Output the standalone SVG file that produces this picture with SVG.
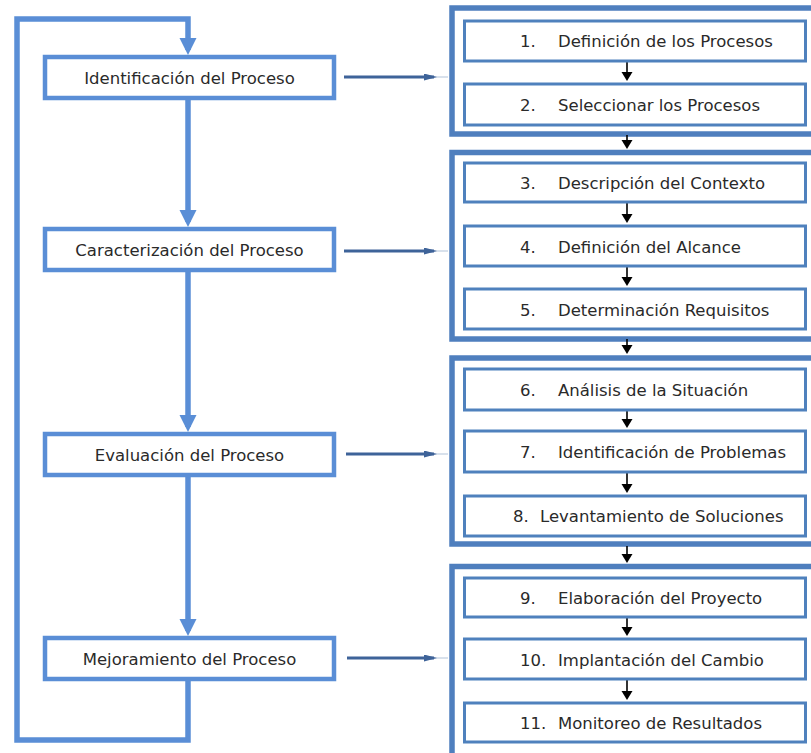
<svg xmlns="http://www.w3.org/2000/svg" width="811" height="753" viewBox="0 0 811 753">
<style>
.lbox{fill:#fff;stroke:#5A8ED6;stroke-width:4.5}
.grp{fill:#fff;stroke:#4F7FBE;stroke-width:5.5}
.ibox{fill:#fff;stroke:#4F81BD;stroke-width:3}
.lt{font-family:"DejaVu Sans",Verdana,sans-serif;font-size:16.5px;fill:#2a2a2a;text-anchor:middle}
.rt{font-family:"DejaVu Sans",Verdana,sans-serif;font-size:16.5px;fill:#2a2a2a}
.flow{fill:none;stroke:#5A8ED6;stroke-width:5.5}
.thin{fill:none;stroke:#000;stroke-width:1.6}
.side{fill:none;stroke:#3E6399;stroke-width:3}
.ghost{fill:none;stroke:#D8E1EC;stroke-width:2}
</style>
<defs>
<marker id="bh" markerUnits="userSpaceOnUse" markerWidth="18" markerHeight="18" refX="12" refY="8.5" orient="auto"><path d="M0,0 L17,8.5 L0,17 z" fill="#5A8ED6"/></marker>
<marker id="kh" markerUnits="userSpaceOnUse" markerWidth="10" markerHeight="12" refX="6" refY="5.5" orient="auto"><path d="M0,0 L9,5.5 L0,11 z" fill="#000"/></marker>
<marker id="sh" markerUnits="userSpaceOnUse" markerWidth="14" markerHeight="8" refX="10" refY="3.5" orient="auto"><path d="M0,0 L13,3.5 L0,7 z" fill="#3E6399"/></marker>
</defs>

<g id="connectors">
<path class="flow" d="M188,681 V740 H17 V19 H188 V50" marker-end="url(#bh)"/>
<path class="flow" d="M188,100 V222" marker-end="url(#bh)"/>
<path class="flow" d="M188,272 V427" marker-end="url(#bh)"/>
<path class="flow" d="M188,477 V631" marker-end="url(#bh)"/>
<path class="ghost" d="M430,77 H448 M430,251 H448 M430,454 H448 M430,658 H448"/>
<path class="side" d="M344,77 H434" marker-end="url(#sh)"/>
<path class="side" d="M344,251 H434" marker-end="url(#sh)"/>
<path class="side" d="M346,454 H434" marker-end="url(#sh)"/>
<path class="side" d="M347,658 H434" marker-end="url(#sh)"/>
</g>

<g id="grp1"><rect class="grp" x="452" y="8" width="370" height="126"/></g>
<g id="grp2"><rect class="grp" x="452" y="152.5" width="370" height="186.5"/></g>
<g id="grp3"><rect class="grp" x="452" y="358" width="370" height="186"/></g>
<g id="grp4"><rect class="grp" x="452" y="566.5" width="370" height="200"/></g>

<g id="inner-arrows">
<path class="thin" d="M627,62 V78" marker-end="url(#kh)"/>
<path class="thin" d="M627,135 V146" marker-end="url(#kh)"/>
<path class="thin" d="M627,203 V220" marker-end="url(#kh)"/>
<path class="thin" d="M627,267 V283" marker-end="url(#kh)"/>
<path class="thin" d="M627,339 V351" marker-end="url(#kh)"/>
<path class="thin" d="M627,411 V425" marker-end="url(#kh)"/>
<path class="thin" d="M627,473 V490" marker-end="url(#kh)"/>
<path class="thin" d="M627,546 V560" marker-end="url(#kh)"/>
<path class="thin" d="M627,618 V633" marker-end="url(#kh)"/>
<path class="thin" d="M627,680 V697" marker-end="url(#kh)"/>
</g>

<g id="n-ident"><rect class="lbox" x="45" y="57" width="289" height="41"/><text class="lt" x="189.5" y="83.5">Identificación del Proceso</text></g>
<g id="n-caract"><rect class="lbox" x="45" y="229" width="289" height="41"/><text class="lt" x="189.5" y="255.5">Caracterización del Proceso</text></g>
<g id="n-eval"><rect class="lbox" x="45" y="434" width="289" height="41"/><text class="lt" x="189.5" y="460.5">Evaluación del Proceso</text></g>
<g id="n-mejor"><rect class="lbox" x="45" y="638" width="289" height="41"/><text class="lt" x="189.5" y="664.5">Mejoramiento del Proceso</text></g>

<g id="n1"><rect class="ibox" x="464.5" y="21" width="341" height="40"/><text class="rt" x="520" y="46.5">1.</text><text class="rt" x="558" y="46.5">Definición de los Procesos</text></g>
<g id="n2"><rect class="ibox" x="464.5" y="84" width="341" height="41"/><text class="rt" x="520" y="110.5">2.</text><text class="rt" x="558" y="110.5">Seleccionar los Procesos</text></g>
<g id="n3"><rect class="ibox" x="464.5" y="163" width="341" height="39"/><text class="rt" x="520" y="188.5">3.</text><text class="rt" x="558" y="188.5">Descripción del Contexto</text></g>
<g id="n4"><rect class="ibox" x="464.5" y="226" width="341" height="40"/><text class="rt" x="520" y="252.5">4.</text><text class="rt" x="558" y="252.5">Definición del Alcance</text></g>
<g id="n5"><rect class="ibox" x="464.5" y="289" width="341" height="40"/><text class="rt" x="520" y="315.5">5.</text><text class="rt" x="558" y="315.5">Determinación Requisitos</text></g>
<g id="n6"><rect class="ibox" x="464.5" y="369" width="341" height="41"/><text class="rt" x="520" y="395.5">6.</text><text class="rt" x="558" y="395.5">Análisis de la Situación</text></g>
<g id="n7"><rect class="ibox" x="464.5" y="431" width="341" height="41"/><text class="rt" x="520" y="457.5">7.</text><text class="rt" x="558" y="457.5">Identificación de Problemas</text></g>
<g id="n8"><rect class="ibox" x="464.5" y="496" width="341" height="40"/><text class="rt" x="513" y="521.5">8.</text><text class="rt" x="540" y="521.5">Levantamiento de Soluciones</text></g>
<g id="n9"><rect class="ibox" x="464.5" y="578" width="341" height="39"/><text class="rt" x="520" y="603.5">9.</text><text class="rt" x="558" y="603.5">Elaboración del Proyecto</text></g>
<g id="n10"><rect class="ibox" x="464.5" y="639" width="341" height="40"/><text class="rt" x="520" y="665.5">10.</text><text class="rt" x="558" y="665.5">Implantación del Cambio</text></g>
<g id="n11"><rect class="ibox" x="464.5" y="703" width="341" height="39"/><text class="rt" x="520" y="728.5">11.</text><text class="rt" x="558" y="728.5">Monitoreo de Resultados</text></g>
</svg>
